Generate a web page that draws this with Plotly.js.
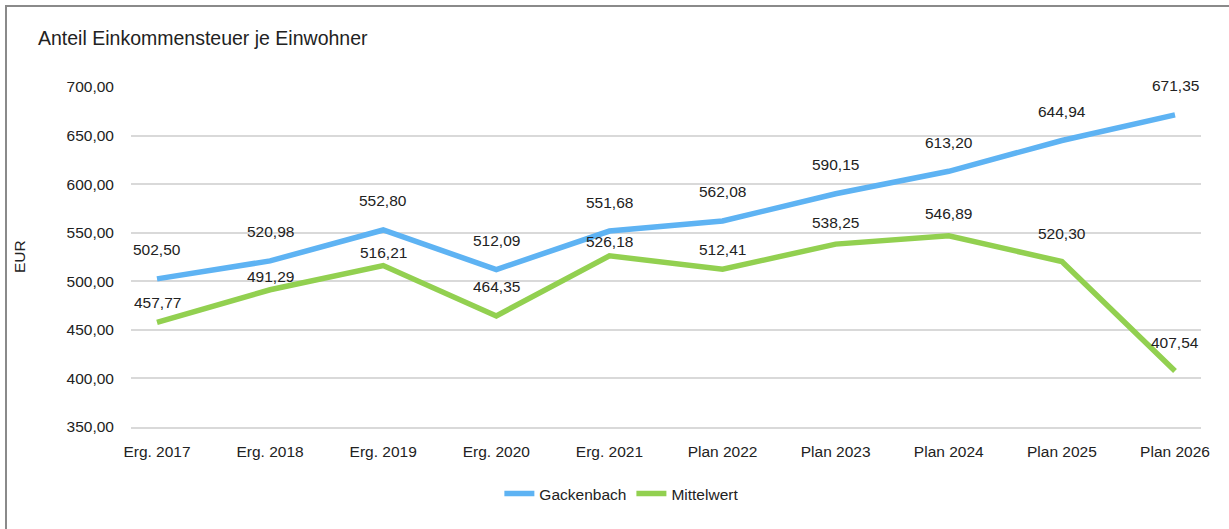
<!DOCTYPE html>
<html>
<head>
<meta charset="utf-8">
<script src="https://cdn.plot.ly/plotly-3.0.1.min.js"></script>
<style>
  html, body { margin: 0; padding: 0; background: #ffffff; overflow: hidden; }
  #frame { position: absolute; left: 5px; top: 5px; width: 1300px; height: 600px;
           border-left: 2px solid #8a8a8a; border-top: 2px solid #8a8a8a; pointer-events: none; z-index: 2; }
  #chart { position: absolute; left: 0; top: 0; width: 1229px; height: 529px; z-index: 1; }
</style>
</head>
<body>
<div id="chart"></div>
<div id="frame"></div>
<script>
const categories = ["Erg. 2017", "Erg. 2018", "Erg. 2019", "Erg. 2020", "Erg. 2021",
                    "Plan 2022", "Plan 2023", "Plan 2024", "Plan 2025", "Plan 2026"];
const gackenbach = [502.50, 520.98, 552.80, 512.09, 551.68, 562.08, 590.15, 613.20, 644.94, 671.35];
const mittelwert = [457.77, 491.29, 516.21, 464.35, 526.18, 512.41, 538.25, 546.89, 520.30, 407.54];
const seriesNames = ["Gackenbach", "Mittelwert"];
const yTicks = [350, 400, 450, 500, 550, 600, 650, 700];

// label placement style (pixels above the point)
const shiftGacken = 29;
const shiftMittel = [20, 13, 13, 29, 14, 20, 22, 22, 28, 29];

const fmt = v => v.toFixed(2).replace('.', ',');
const textColor = '#222222';
const font = 'Liberation Sans, Arial, sans-serif';

const traces = [
  { x: categories, y: gackenbach, name: seriesNames[0], type: 'scatter', mode: 'lines',
    line: { color: '#5EB3F3', width: 5.5 } },
  { x: categories, y: mittelwert, name: seriesNames[1], type: 'scatter', mode: 'lines',
    line: { color: '#92D050', width: 5.5 } }
];

const annotations = [];
categories.forEach((c, i) => {
  annotations.push({ x: c, y: gackenbach[i], xref: 'x', yref: 'y', text: fmt(gackenbach[i]),
    showarrow: false, yshift: shiftGacken, xanchor: 'center', yanchor: 'middle',
    font: { family: font, size: 15.5, color: textColor } });
  annotations.push({ x: c, y: mittelwert[i], xref: 'x', yref: 'y', text: fmt(mittelwert[i]),
    showarrow: false, yshift: shiftMittel[i], xanchor: 'center', yanchor: 'middle',
    font: { family: font, size: 15.5, color: textColor } });
});
annotations.push({ text: 'EUR', xref: 'paper', yref: 'paper', x: 0, y: 0.5, xshift: -112,
  textangle: -90, showarrow: false, xanchor: 'center', yanchor: 'middle',
  font: { family: font, size: 15.5, color: textColor } });

const layout = {
  width: 1229, height: 529,
  margin: { l: 131, r: 28, t: 87, b: 102 },
  paper_bgcolor: 'rgba(0,0,0,0)', plot_bgcolor: 'rgba(0,0,0,0)',
  separators: ',.',
  font: { family: font, size: 15, color: textColor },
  title: { text: 'Anteil Einkommensteuer je Einwohner', xref: 'container', yref: 'container',
    x: 38 / 1229, xanchor: 'left', y: 1 - 38 / 529, yanchor: 'middle',
    font: { family: font, size: 19.5, color: textColor } },
  xaxis: { type: 'category', showgrid: false, zeroline: false, showline: true,
    linecolor: '#d9d9d9', linewidth: 2, ticks: '', ticklabelstandoff: 9,
    tickfont: { family: font, size: 15.5, color: textColor } },
  yaxis: { range: [350, 700], tickvals: yTicks, tickformat: '.2f', showgrid: true,
    gridcolor: '#d9d9d9', gridwidth: 2, zeroline: false, showline: false, ticks: '',
    ticklabelstandoff: 16, tickfont: { family: font, size: 15.5, color: textColor } },
  showlegend: true,
  legend: { orientation: 'h', xref: 'container', yref: 'container', x: 0.506, xanchor: 'center',
    y: 1 - 494 / 529, yanchor: 'middle', font: { family: font, size: 15.5, color: textColor },
    itemwidth: 30 },
  annotations: annotations
};

Plotly.newPlot('chart', traces, layout, { displayModeBar: false, staticPlot: true });
</script>
</body>
</html>
